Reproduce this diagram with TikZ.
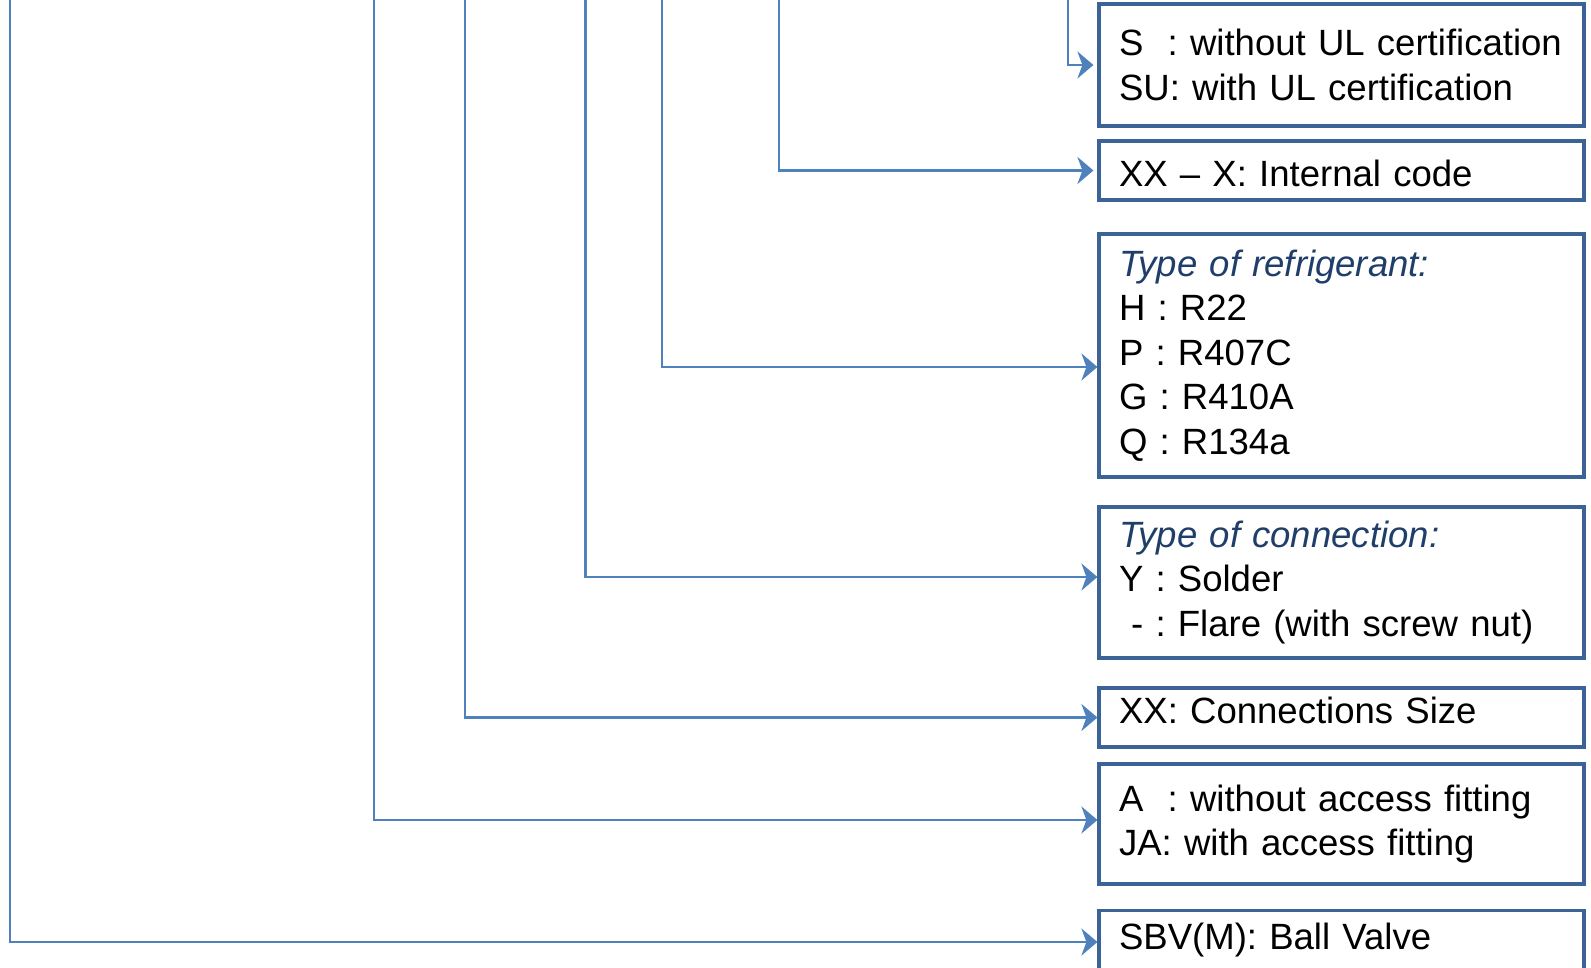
\documentclass[tikz,border=0pt]{standalone}
\usepackage{fontspec}
\setmainfont{Liberation Sans}
\usepackage{tikz}
\usetikzlibrary{arrows.meta}
\definecolor{linkblue}{HTML}{4F81BD}
\definecolor{boxblue}{HTML}{3C6395}
\definecolor{titleblue}{HTML}{1F3F6A}
\tikzset{
    codebox/.style={draw=boxblue, line width=0.9pt, text width=4.45cm, inner xsep=0.2cm, inner ysep=0pt,
        minimum width=4.85cm, align=left, font=\fontsize{10.4}{12.7}\selectfont\frenchspacing},
    link/.style={draw=linkblue, line width=0.65pt, -{Stealth[length=0.16cm, width=0.27cm, inset=0.05cm]}}
}
\newcommand{\boxtitle}[1]{\textcolor{titleblue}{\textit{#1}}}

\begin{document}
\begin{tikzpicture}
        \fill[white] (0,0) rectangle (15.91,-9.68);
        \clip (0,0) rectangle (15.91,-9.68);

        \node (Cert)[codebox, minimum height=1.22cm] at (13.415,-0.65) {S~~: without UL certification\\SU: with UL certification};
        \node (Code)[codebox, minimum height=0.59cm, text height=0.32cm] at (13.415,-1.705) {XX – X: Internal code};
        \node (Refrigerant)[codebox, minimum height=2.43cm] at (13.415,-3.555) {\boxtitle{Type of refrigerant:}\\H : R22\\P : R407C\\G : R410A\\Q : R134a};
        \node (Connection)[codebox, minimum height=1.51cm] at (13.415,-5.825) {\boxtitle{Type of connection:}\\Y : Solder\\~- : Flare (with screw nut)};
        \node (Size)[codebox, minimum height=0.59cm, text depth=0.14cm] at (13.415,-7.175) {XX: Connections Size};
        \node (Fitting)[codebox, minimum height=1.2cm] at (13.415,-8.24) {A~~: without access fitting\\JA: with access fitting};
        \node (Valve)[codebox, minimum height=0.59cm] at (13.415,-9.40) {SBV(M): Ball Valve};

        \coordinate (CertTop) at (10.68,0);
        \coordinate (CodeTop) at (7.79,0);
        \coordinate (RefrigerantTop) at (6.62,0);
        \coordinate (ConnectionTop) at (5.855,0);
        \coordinate (SizeTop) at (4.65,0);
        \coordinate (FittingTop) at (3.74,0);
        \coordinate (ValveTop) at (0.10,0);

        \draw [link, shorten >=0.04cm] (CertTop) |- (Cert.west);
        \draw [link, shorten >=0.04cm] (CodeTop) |- (Code.west);
        \draw [link] (RefrigerantTop) |- ([yshift=-0.115cm]Refrigerant.west);
        \draw [link] (ConnectionTop) |- ([yshift=0.055cm]Connection.west);
        \draw [link] (SizeTop) |- (Size.west);
        \draw [link] (FittingTop) |- ([yshift=0.04cm]Fitting.west);
        \draw [link] (ValveTop) |- ([yshift=-0.02cm]Valve.west);
    \end{tikzpicture}
\end{document}
